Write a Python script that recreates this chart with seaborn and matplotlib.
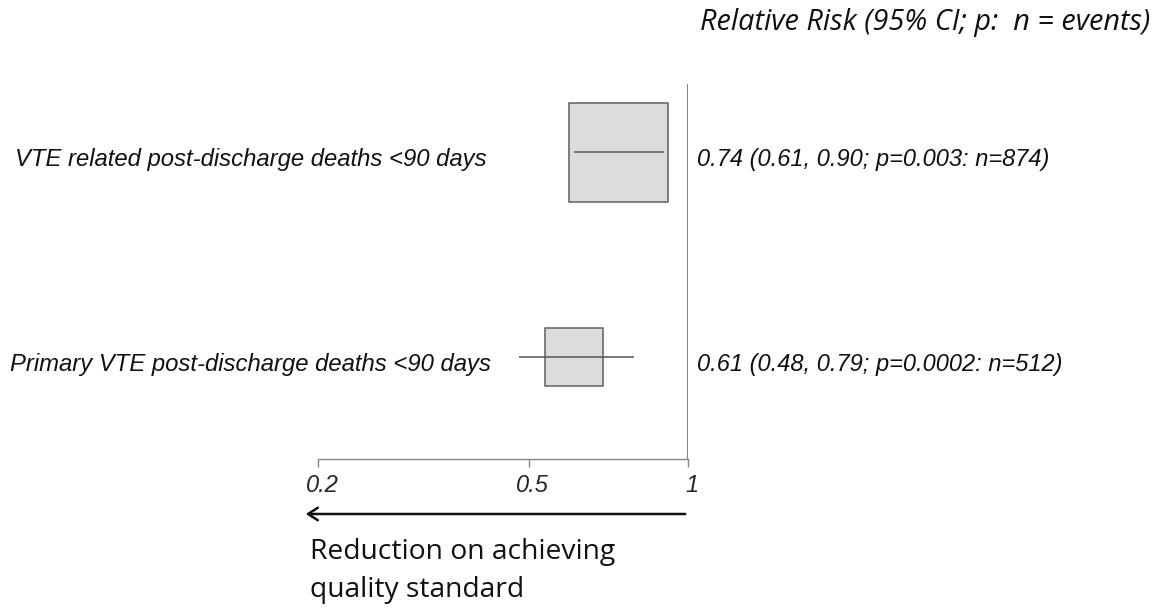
import numpy as np
import pandas as pd
import seaborn as sns
import matplotlib.pyplot as plt
from matplotlib.ticker import NullLocator
from matplotlib.transforms import ScaledTranslation

# data
outcomes = ['VTE related post-discharge deaths <90 days',
            'Primary VTE post-discharge deaths <90 days']
rr = [0.74, 0.61]
ci_low = [0.61, 0.48]
ci_high = [0.90, 0.79]
p_values = ['0.003', '0.0002']
events = [874, 512]
tick_values = [0.2, 0.5, 1]
tick_labels = ['0.2', '0.5', '1']

df = pd.DataFrame({'outcome': outcomes, 'rr': rr, 'lo': ci_low, 'hi': ci_high,
                   'p': p_values, 'n': events})
df['row'] = np.arange(len(df))

sns.set_style('white')
plt.rcParams['font.family'] = ['Liberation Sans', 'DejaVu Sans']

W, H = 1159, 611
fig = plt.figure(figsize=(W / 100, H / 100), dpi=100)
ax = fig.add_axes([318 / W, (H - 459) / H, 370 / W, 375 / H])

# box side (px) proportional to number of events
px_per_event = 99 / 874
side_pt = lambda n: n * px_per_event * 0.72
sizes = (side_pt(df['n'].min()) ** 2, side_pt(df['n'].max()) ** 2)

sns.scatterplot(data=df, x='rr', y='row', size='n', sizes=sizes, marker='s',
                color='#dcdcdc', edgecolor='#6a6a6a', linewidth=1.2,
                legend=False, ax=ax, zorder=2)
ax.hlines(df['row'], df['lo'], df['hi'], color='#555555', lw=1.1, zorder=3)
ax.axvline(1, color='#777777', lw=1.3, zorder=1)

ax.set_xscale('log')
ax.set_xlim(0.2, 1)
ax.set_ylim(1 + 102 / 205, -68 / 205)
ax.set_xticks(tick_values)
ax.set_xticklabels(tick_labels, fontsize=17, fontstyle='italic')
ax.xaxis.set_minor_locator(NullLocator())
ax.tick_params(axis='x', direction='out', length=6, width=1, color='#888888',
               pad=5, bottom=True)
# italic labels sit a little right of their ticks
for lab in ax.get_xticklabels():
    lab.set_transform(lab.get_transform() + ScaledTranslation(0.04, 0, fig.dpi_scale_trans))
ax.set_yticks([])
ax.set_xlabel('')
ax.set_ylabel('')
for s in ['top', 'right', 'left']:
    ax.spines[s].set_visible(False)
ax.spines['bottom'].set_color('#888888')
ax.spines['bottom'].set_linewidth(1)

ytrans = ax.get_yaxis_transform()
for _, r in df.iterrows():
    ax.text(-67 / 370, r['row'] + 0.068, r['outcome'], transform=ytrans,
            ha='center', va='baseline', fontsize=17.2, fontstyle='italic',
            color='#111111')
    txt = f"{r['rr']:.2f} ({r['lo']:.2f}, {r['hi']:.2f}; p={r['p']}: n={r['n']})"
    ax.text(379 / 370, r['row'] + 0.068, txt, transform=ytrans,
            ha='left', va='baseline', fontsize=17, fontstyle='italic',
            color='#111111')

fig.text(1150 / W, 1 - 30 / H, 'Relative Risk (95% CI; p:  n = events)',
         ha='right', va='baseline', fontsize=20.8, fontstyle='italic',
         family=['Open Sans', 'DejaVu Sans'], color='#111111')

ax.annotate('', xy=(-15 / 370, -55 / 375), xytext=(1, -55 / 375),
            xycoords='axes fraction', textcoords='axes fraction',
            arrowprops=dict(arrowstyle='->,head_length=0.7,head_width=0.45',
                            lw=1.8, color='#111111'), annotation_clip=False)

fig.text(310 / W, 1 - 559 / H, 'Reduction on achieving',
         ha='left', va='baseline', fontsize=20.3,
         family=['Open Sans', 'DejaVu Sans'], color='#111111')
fig.text(310 / W, 1 - 597 / H, 'quality standard',
         ha='left', va='baseline', fontsize=20.3,
         family=['Open Sans', 'DejaVu Sans'], color='#111111')

fig.savefig('out.png', dpi=100)
